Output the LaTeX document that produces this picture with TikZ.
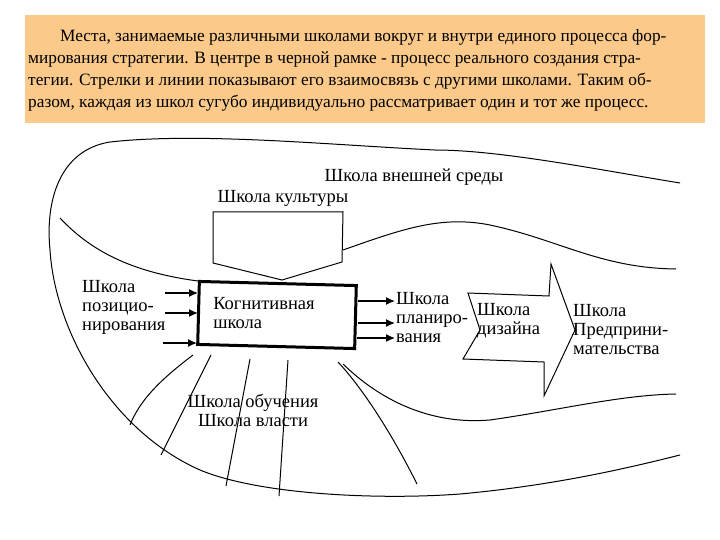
\documentclass[tikz,border=0pt]{standalone}
\usepackage{fontspec}
\setmainfont{Liberation Serif}
\usetikzlibrary{arrows.meta}
\definecolor{beige}{HTML}{FBC98A}
\begin{document}
\begin{tikzpicture}[x=1pt,y=-1pt,
  hdr/.style={anchor=west,inner sep=0pt,font=\fontsize{17.3}{19}\selectfont},
  lbl/.style={align=left,inner sep=0pt,font=\fontsize{18.5}{19}\selectfont},
  ln/.style={line width=1pt},
  arr/.style={line width=1.3pt,-{Latex[length=9pt,width=8pt]}}]
\useasboundingbox (0,0) rectangle (720,540);
\fill[white] (0,0) rectangle (720,540);
\fill[beige] (25,15) rectangle (705,123);
\node[hdr] (h1) at (60,37) {Места, занимаемые различными школами вокруг и внутри единого процесса фор-};
\node[hdr] (h2) at (28,59) {мирования стратегии. В центре в черной рамке - процесс реального создания стра-};
\node[hdr] (h3) at (28,81) {тегии. Стрелки и линии показывают его взаимосвязь с другими школами. Таким об-};
\node[hdr] (h4) at (28,103) {разом, каждая из школ сугубо индивидуально рассматривает один и тот же процесс.};
% outer curve
\draw[ln] (680,183) .. controls (600,170) and (500,150) .. (435,150)
  .. controls (330,145) and (200,132) .. (110,142)
  .. controls (60,150) and (45,200) .. (50,250)
  .. controls (55,330) and (110,430) .. (200,470)
  .. controls (260,495) and (380,500) .. (460,494)
  .. controls (560,485) and (640,465) .. (680,455);
% inner top-left curve
\draw[ln] (60,218) .. controls (90,250) and (130,272) .. (198,281);
% culture pentagon
\draw[ln] (213,212) -- (343,212) -- (342,262) -- (282,280) -- (213,263) -- cycle;
% right upper curve
\draw[ln] (343,250) .. controls (400,230) and (440,215) .. (490,225)
  .. controls (560,240) and (600,268) .. (676,269);
% bottom right curve
\draw[ln] (343,364) .. controls (380,400) and (430,425) .. (490,420)
  .. controls (560,410) and (620,395) .. (676,394);
% design arrow
\draw[ln] (468,293) -- (549,296) -- (551,264) -- (575,330) -- (544,396) -- (544,362) -- (463,359) -- (480,330) -- cycle;
% cognitive box
\node[draw,line width=3pt,minimum width=157pt,minimum height=63pt,rotate=-1.5,inner sep=0pt] (cog) at (277,315) {};
\node[lbl] (cogt) at (264,313) {Когнитивная\\школа};
% lines from bottom
\draw[ln] (193,355) .. controls (160,380) and (140,400) .. (130,425);
\draw[ln] (211,355) -- (161,455);
\draw[ln] (250,359) -- (226,486);
\draw[ln] (288,360) -- (279,496);
\draw[ln] (338,362) .. controls (355,380) and (385,420) .. (417,484);
% arrows left
\coordinate (l1) at (165,293); \coordinate (l2) at (165,313); \coordinate (l3) at (163,343);
\draw[arr] (l1) -- (198,293);
\draw[arr] (l2) -- (198,313);
\draw[arr] (l3) -- (197,343);
\coordinate (r1) at (395,301); \coordinate (r2) at (395,323); \coordinate (r3) at (395,338);
\draw[arr] (358,301) -- (r1);
\draw[arr] (358,323) -- (r2);
\draw[arr] (357,338) -- (r3);
% labels
\node[lbl] (ext) at (414,177) {Школа внешней среды};
\node[lbl] (cult) at (283,198) {Школа культуры};
\node[lbl,anchor=west] (pos) at (82,307) {Школа\\позицио-\\нирования};
\node[lbl,anchor=west] (plan) at (396,318) {Школа\\планиро-\\вания};
\node[lbl,anchor=west] (des) at (477,321) {Школа\\дизайна};
\node[lbl,anchor=west] (ent) at (573,330) {Школа\\Предприни-\\мательства};
\node[lbl,align=center] (learn) at (253,410) {Школа обучения\\Школа власти};
\end{tikzpicture}
\end{document}
